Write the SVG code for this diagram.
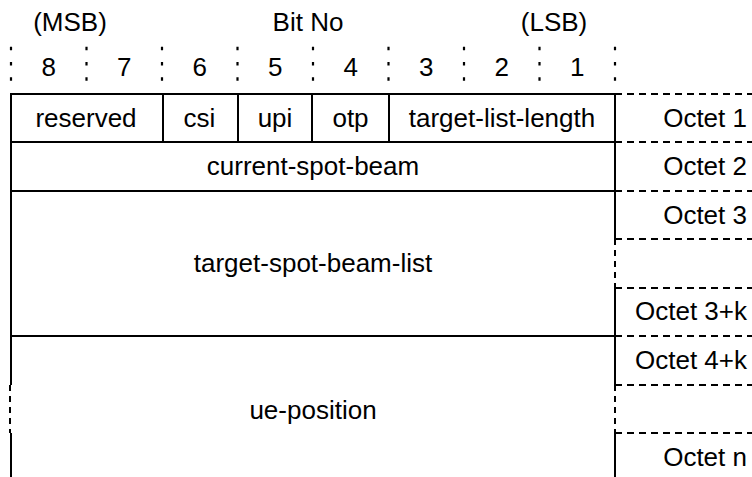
<svg xmlns="http://www.w3.org/2000/svg" width="752" height="477" viewBox="0 0 752 477">
<style>
text{font-family:"Liberation Sans",Arial,sans-serif;font-size:26px;fill:#000;text-anchor:middle}
.end{text-anchor:end}
.s{stroke:#000;stroke-width:2;fill:none}
.d{stroke:#000;stroke-width:2;fill:none;stroke-dasharray:7 5}
.dv{stroke:#000;stroke-width:2;fill:none;stroke-dasharray:6 5}
.m{stroke:#000;stroke-width:2.2;fill:none;stroke-dasharray:3.5 11.8}
</style>
<rect width="752" height="477" fill="#fff"/>
<g id="header">
<text x="70" y="31">(MSB)</text>
<text x="308" y="31">Bit No</text>
<text x="554" y="31">(LSB)</text>
<text x="48.75" y="76">8</text>
<text x="124.25" y="76">7</text>
<text x="199.75" y="76">6</text>
<text x="275.25" y="76">5</text>
<text x="350.75" y="76">4</text>
<text x="426.25" y="76">3</text>
<text x="501.75" y="76">2</text>
<text x="577.25" y="76">1</text>
<path class="m" d="M11 46.7V82M86.5 46.7V82M162 46.7V82M237.5 46.7V82M313 46.7V82M388.5 46.7V82M464 46.7V82M539.5 46.7V82M615 46.7V82"/>
</g>
<g id="connectors">
<path class="s" d="M11 94H615M11 142H615M11 191H615M11 336H615"/>
<path class="s" d="M163 94V142M238 94V142M312 94V142M389 94V142"/>
<path class="s" d="M11 93V385M11 433V477"/>
<path class="dv" d="M10 385V433"/>
<path class="s" d="M615 93V239M615 288V385M615 433V477"/>
<path class="dv" d="M615 239V288M615 385V433"/>
<path class="d" d="M615 94H752M615 142H752M615 191H752M615 239H752M615 288H752M615 336H752M615 385H752M615 433H752"/>
</g>
<g id="row1">
<text x="86" y="127">reserved</text>
<text x="199.5" y="127">csi</text>
<text x="275" y="127">upi</text>
<text x="350.5" y="127">otp</text>
<text x="502" y="127">target-list-length</text>
<text class="end" x="747" y="127">Octet 1</text>
</g>
<g id="row2">
<text x="313" y="175">current-spot-beam</text>
<text class="end" x="747" y="175">Octet 2</text>
</g>
<g id="row3">
<text x="313" y="272">target-spot-beam-list</text>
<text class="end" x="747" y="224">Octet 3</text>
<text class="end" x="747" y="320">Octet 3+k</text>
</g>
<g id="row4">
<text x="313" y="419">ue-position</text>
<text class="end" x="747" y="369">Octet 4+k</text>
<text class="end" x="747" y="466">Octet n</text>
</g>
</svg>
